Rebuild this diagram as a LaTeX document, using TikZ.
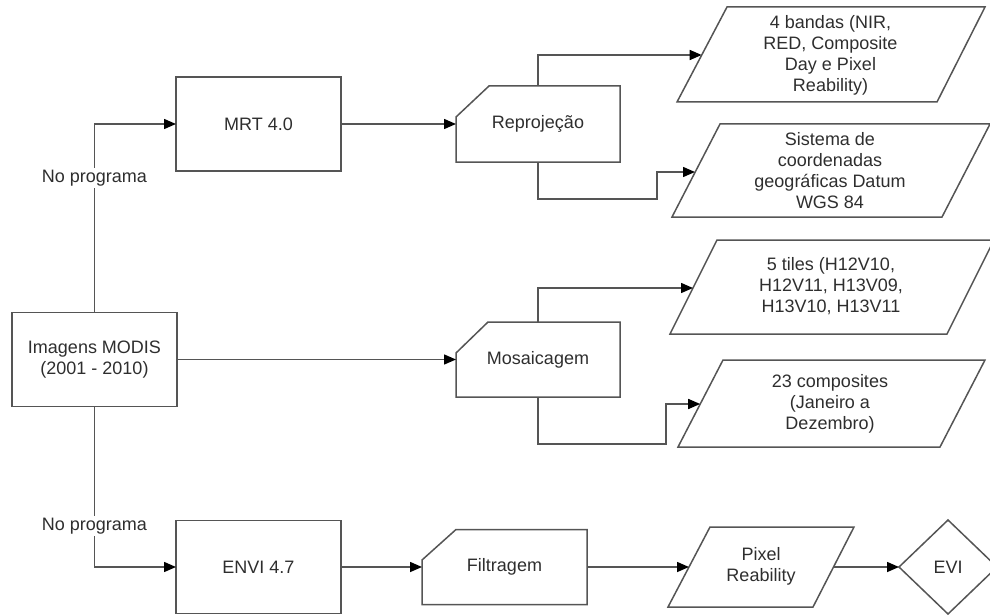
\documentclass[tikz,border=0pt]{standalone}
\usepackage{fontspec}
\setmainfont{Liberation Sans}
\usetikzlibrary{arrows.meta}
\definecolor{linec}{HTML}{555555}
\definecolor{txt}{HTML}{2E2E2E}
\begin{document}
\begin{tikzpicture}[x=1pt,y=-1pt,
  every node/.style={font=\fontsize{18}{21}\selectfont, text=txt, align=center, inner sep=0pt, outer sep=0pt},
  box/.style={draw=linec, line width=1.5pt, minimum width=165pt, minimum height=94pt},
  lbl/.style={},
  shp/.style={draw=linec, line width=1.5pt, line join=miter},
  conn/.style={draw=linec, line width=1.5pt, -{Triangle[length=12pt,width=10pt,color=black]}},
  tag/.style={fill=white, inner sep=2pt}
]
\useasboundingbox (0,0) rectangle (990,615);

% main rectangles
\node[box] (modis) at (94.5,359.5) {Imagens MODIS\\(2001 - 2010)};
\node[box] (mrt) at (258.5,124) {MRT 4.0};
\node[box, minimum height=93pt] (envi) at (258.5,567) {ENVI 4.7};

% chamfered process shapes
\draw[shp] (456,117) -- (489,86) -- (620,86) -- (620,162) -- (456,162) -- cycle;
\node[lbl, minimum width=164pt, minimum height=76pt] (rep) at (538,124) {Reprojeção};

\draw[shp] (456,353) -- (488,322) -- (620,322) -- (620,397) -- (456,397) -- cycle;
\node[lbl, minimum width=164pt, minimum height=75pt] (mos) at (538,359.5) {Mosaicagem};

\draw[shp] (422,560) -- (456,529.5) -- (587,529.5) -- (587,604.5) -- (422,604.5) -- cycle;
\node[lbl, minimum width=165pt, minimum height=75pt] (fil) at (504.5,567) {Filtragem};

% parallelograms (data)
\draw[shp] (727,7) -- (985,7) -- (937,102) -- (677,102) -- cycle;
\node[lbl] (p1) at (830.5,55) {4 bandas (NIR,\\RED, Composite\\Day e Pixel\\Reability)};
\coordinate (p1in) at (701.7,55);

\draw[shp] (720,124) -- (990,124) -- (942,217) -- (672,217) -- cycle;
\node[lbl] (p2) at (830,170.5) {Sistema de\\coordenadas\\geográficas Datum\\WGS 84};
\coordinate (p2in) at (695,172);

\draw[shp] (717,240) -- (994,240) -- (947,334) -- (670,334) -- cycle;
\node[lbl] (p3) at (831,286.5) {5 tiles (H12V10,\\H12V11, H13V09,\\H13V10, H13V11};
\coordinate (p3in) at (693,288);

\draw[shp] (723,360) -- (985,360) -- (940,447) -- (678,447) -- cycle;
\node[lbl] (p4) at (830,403.5) {23 composites\\(Janeiro a\\Dezembro)};
\coordinate (p4in) at (700.2,404);

\draw[shp] (710,527) -- (854,527) -- (813,607) -- (668,607) -- cycle;
\node[lbl] (px) at (761,566) {Pixel\\Reability};
\coordinate (pxin) at (689,567);
\coordinate (pxout) at (833.5,567);

% decision
\draw[shp] (899,567) -- (948,520) -- (997,567) -- (948,614) -- cycle;
\node[lbl] (evi) at (948,567) {EVI};
\coordinate (eviin) at (899,567);

% connectors
\draw[conn] (modis.north) |- (mrt.west);
\node[tag] (np1) at (94.5,178) {No programa};
\draw[conn] (modis.south) |- (envi.west);
\node[tag] (np2) at (94.5,526) {No programa};
\draw[conn] (modis.east) -- (mos.west);
\draw[conn] (mrt.east) -- (rep.west);
\draw[conn] (rep.north) |- (p1in);
\draw[conn] (rep.south) |- (657,199) |- (p2in);
\draw[conn] (mos.north) |- (p3in);
\draw[conn] (mos.south) |- (666,444) |- (p4in);
\draw[conn] (envi.east) -- (fil.west);
\draw[conn] (fil.east) -- (pxin);
\draw[conn] (pxout) -- (eviin);
\end{tikzpicture}
\end{document}
